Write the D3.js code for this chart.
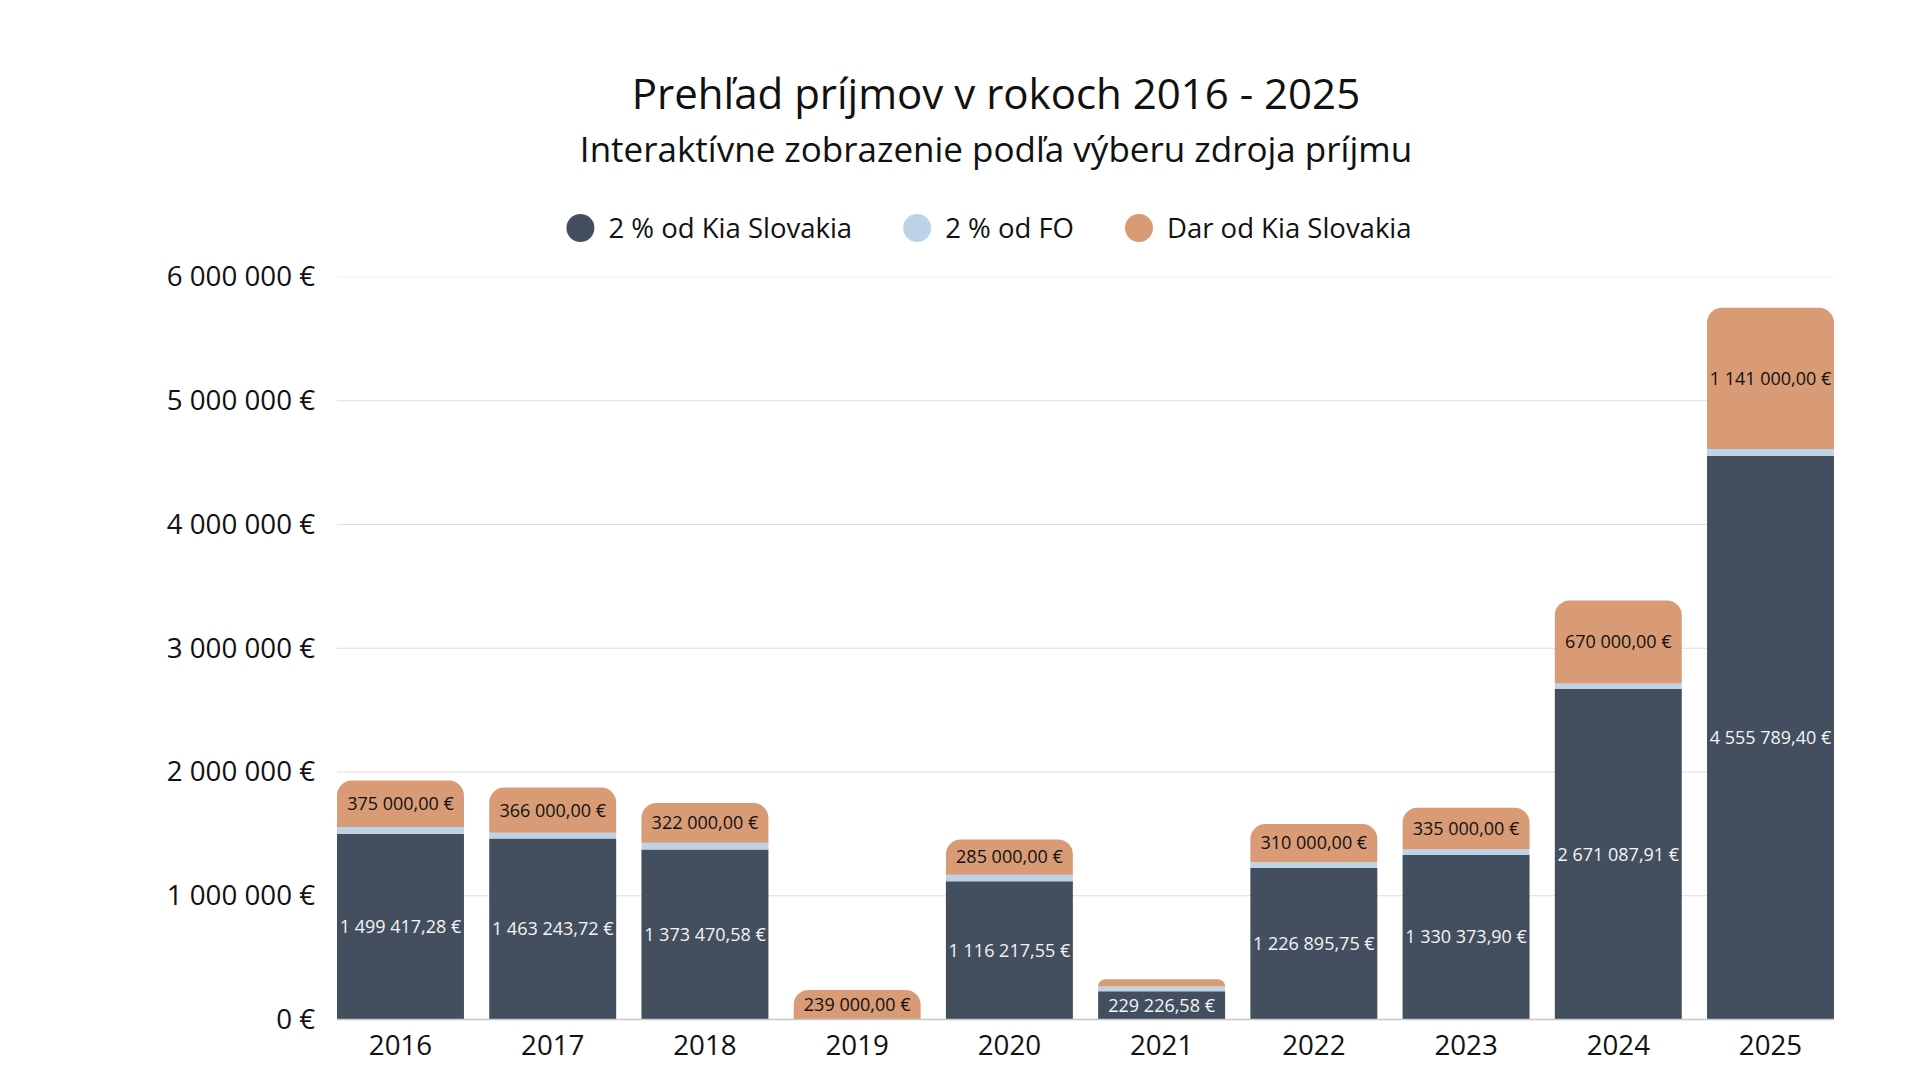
<!DOCTYPE html>
<html>
<head>
<meta charset="utf-8">
<script src="https://cdn.jsdelivr.net/npm/d3@7"></script>
<style>
  html, body { margin: 0; padding: 0; background: #fff; }
  svg { display: block; font-family: "Open Sans", sans-serif; }
</style>
</head>
<body>
<div id="chart"></div>
<script>
// data
const years = ["2016", "2017", "2018", "2019", "2020", "2021", "2022", "2023", "2024", "2025"];
const kia = [1499417.28, 1463243.72, 1373470.58, 0, 1116217.55, 229226.58, 1226895.75, 1330373.90, 2671087.91, 4555789.40];
const fo = [57000, 45000, 54000, 0, 54000, 37000, 43000, 46000, 45000, 54000];
const dar = [375000, 366000, 322000, 239000, 285000, 60000, 310000, 335000, 670000, 1141000];
const yTicks = [0, 1000000, 2000000, 3000000, 4000000, 5000000, 6000000];

const seriesNames = ["2 % od Kia Slovakia", "2 % od FO", "Dar od Kia Slovakia"];
const seriesKeys = ["kia", "fo", "dar"];
const colors = ["#434f5f", "#bdd4e8", "#d89b76"];

const width = 1920, height = 1080;
const margin = {top: 277, right: 86, bottom: 60.5, left: 337};

const rows = years.map((y, i) => ({year: y, kia: kia[i], fo: fo[i], dar: dar[i]}));

const loc = d3.formatLocale({decimal: ",", thousands: "\u00a0", grouping: [3], currency: ["", "\u00a0€"]});
const fmtTick = loc.format("$,.0f");
const fmtVal = loc.format("$,.2f");

const svg = d3.select("#chart").append("svg")
    .attr("width", width)
    .attr("height", height);

// titles
svg.append("text")
    .attr("x", 996).attr("y", 109)
    .attr("text-anchor", "middle")
    .attr("font-size", 42)
    .attr("fill", "#111")
    .text("Prehľad príjmov v rokoch 2016 - 2025");

svg.append("text")
    .attr("x", 996).attr("y", 162)
    .attr("text-anchor", "middle")
    .attr("font-size", 35)
    .attr("fill", "#111")
    .text("Interaktívne zobrazenie podľa výberu zdroja príjmu");

// scales
const x = d3.scaleBand()
    .domain(years)
    .range([margin.left, width - margin.right])
    .paddingInner(0.166)
    .paddingOuter(0);

const y = d3.scaleLinear()
    .domain([0, 6000000])
    .range([height - margin.bottom, margin.top]);

// grid lines
svg.append("g")
  .selectAll("line")
  .data(yTicks.slice(1))
  .join("line")
    .attr("x1", margin.left)
    .attr("x2", width - margin.right)
    .attr("y1", d => y(d))
    .attr("y2", d => y(d))
    .attr("stroke", d => d === 6000000 ? "#f0f0f0" : "#dedede")
    .attr("stroke-width", 1.2);

// y axis
const yAxis = svg.append("g")
    .attr("transform", `translate(${margin.left - 22},0)`)
    .call(d3.axisLeft(y).tickValues(yTicks).tickFormat(fmtTick).tickSize(0).tickPadding(0));
yAxis.select(".domain").remove();
yAxis.selectAll("text")
    .attr("font-family", "Open Sans")
    .attr("font-size", 27.7)
    .attr("fill", "#111");

// stacked bars
const stacked = d3.stack().keys(seriesKeys)(rows);

// rect with rounded top corners
function topRounded(x0, y0, w, h, r) {
  r = Math.min(r, h, w / 2);
  return `M${x0},${y0 + h}V${y0 + r}` +
    `A${r},${r} 0 0 1 ${x0 + r},${y0}` +
    `H${x0 + w - r}` +
    `A${r},${r} 0 0 1 ${x0 + w},${y0 + r}` +
    `V${y0 + h}Z`;
}

// which series is the topmost non-zero one in each column
const topKey = rows.map(r => {
  for (let k = seriesKeys.length - 1; k >= 0; k--) if (r[seriesKeys[k]] > 0) return seriesKeys[k];
  return null;
});

const layers = svg.append("g")
  .selectAll("g")
  .data(stacked)
  .join("g")
    .attr("fill", (d, i) => colors[i]);

layers.selectAll("path")
  .data(d => d.map((s, i) => ({s, i, key: d.key})))
  .join("path")
    .attr("d", d => {
      const x0 = x(d.s.data.year), w = x.bandwidth();
      const y1 = y(d.s[1]), y0 = y(d.s[0]);
      const h = y0 - y1;
      if (h <= 0) return null;
      const r = topKey[d.i] === d.key ? 15 : 0;
      return topRounded(x0, y1, w, h, r);
    });

// baseline
svg.append("line")
    .attr("x1", margin.left)
    .attr("x2", width - margin.right)
    .attr("y1", y(0))
    .attr("y2", y(0))
    .attr("stroke", "#c8c8c8")
    .attr("stroke-width", 1.5);

// x axis labels
const xAxis = svg.append("g")
    .attr("transform", `translate(0,${y(0)})`)
    .call(d3.axisBottom(x).tickSize(0).tickPadding(16));
xAxis.select(".domain").remove();
xAxis.selectAll("text")
    .attr("font-family", "Open Sans")
    .attr("font-size", 27.7)
    .attr("fill", "#111");

// value labels inside segments (kia and dar only, where there is room)
const labelKeys = ["kia", "dar"];
stacked.filter(l => labelKeys.includes(l.key)).forEach(layer => {
  svg.append("g")
    .selectAll("text")
    .data(layer.filter(s => y(s[0]) - y(s[1]) > 20))
    .join("text")
      .attr("x", s => x(s.data.year) + x.bandwidth() / 2)
      .attr("y", s => (y(s[0]) + y(s[1])) / 2)
      .attr("dy", "0.35em")
      .attr("text-anchor", "middle")
      .attr("font-size", 18)
      .attr("fill", layer.key === "kia" ? "#f4f4f4" : "#111")
      .text(s => fmtVal(s.data[layer.key]));
});

// legend
const legend = svg.append("g");
let cx = 0;
seriesNames.forEach((name, i) => {
  const item = legend.append("g").attr("transform", `translate(${cx},0)`);
  item.append("circle").attr("cx", 14).attr("cy", 0).attr("r", 14).attr("fill", colors[i]);
  const t = item.append("text")
      .attr("x", 42)
      .attr("dy", "0.35em")
      .attr("font-size", 27.5)
      .attr("fill", "#111")
      .text(name);
  cx += 42 + t.node().getComputedTextLength() + 51;
});
const legendWidth = cx - 51;
legend.attr("transform", `translate(${989 - legendWidth / 2},228)`);
</script>
</body>
</html>
